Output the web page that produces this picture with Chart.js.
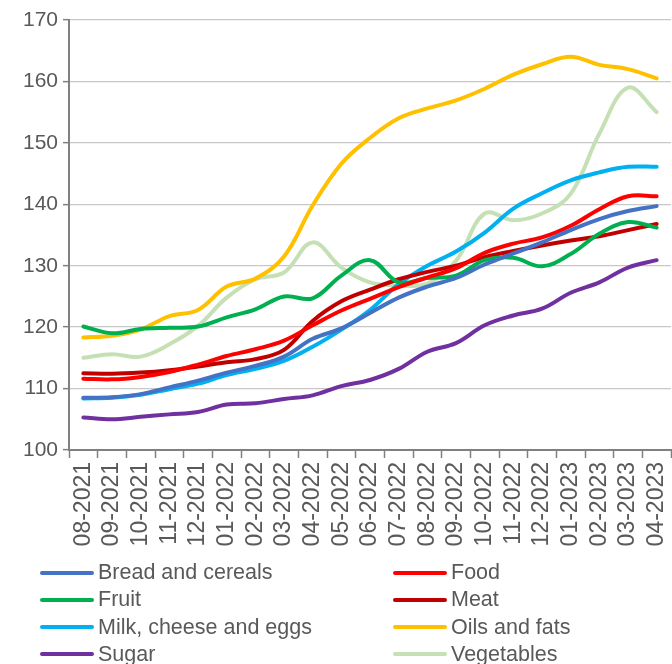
<!DOCTYPE html>
<html>
<head>
<meta charset="utf-8">
<script src="https://cdn.jsdelivr.net/npm/chart.js@4.4.0/dist/chart.umd.min.js"></script>
<style>
  html, body { margin: 0; padding: 0; background: #ffffff; }
  #wrap { position: relative; width: 672px; height: 664px; overflow: hidden; }
  #chartBox { position: absolute; left: 0; top: 0; width: 672px; height: 560px; }
  #legend { position: absolute; left: 0; top: 559px; width: 672px; font-family: 'Liberation Sans', Arial, sans-serif; font-size: 21.5px; color: #595959; }
  .item { position: absolute; height: 27px; line-height: 27px; white-space: nowrap; }
  .item .ln { position: absolute; left: 0; top: 11.5px; width: 54px; height: 4px; border-radius: 2px; }
  .item .tx { position: absolute; left: 58px; top: 0; }
</style>
</head>
<body>
<div id="wrap">
  <div id="chartBox"><canvas id="c" width="672" height="560"></canvas></div>
  <div id="legend"></div>
</div>
<script>
const categories = ['08-2021','09-2021','10-2021','11-2021','12-2021','01-2022','02-2022','03-2022','04-2022','05-2022','06-2022','07-2022','08-2022','09-2022','10-2022','11-2022','12-2022','01-2023','02-2023','03-2023','04-2023'];

const seriesNames = ['Bread and cereals','Food','Fruit','Meat','Milk, cheese and eggs','Oils and fats','Sugar','Vegetables'];

const breadAndCereals = [108.5,108.6,109.1,110.2,111.3,112.6,113.7,115.2,118.1,119.8,122.3,124.8,126.6,128.0,130.2,132.0,133.8,135.8,137.6,138.9,139.7];
const food = [111.6,111.5,111.9,112.7,113.9,115.3,116.4,117.8,120.3,122.7,124.6,126.5,128.1,129.6,132.1,133.6,134.6,136.5,139.2,141.3,141.3];
const fruit = [120.1,119.0,119.7,119.9,120.1,121.6,122.9,125.0,124.7,128.4,130.9,127.3,128.0,128.4,130.9,131.3,129.9,131.9,135.2,137.1,136.2];
const meat = [112.5,112.4,112.6,113.0,113.6,114.3,114.8,116.3,121.0,124.2,126.1,127.8,129.0,130.0,131.4,132.4,133.3,134.1,134.8,135.8,136.8];
const milkCheeseEggs = [108.4,108.5,109.0,109.9,110.8,112.2,113.2,114.5,116.8,119.6,122.8,127.0,130.0,132.3,135.4,139.3,141.8,143.9,145.2,146.1,146.1];
const oilsAndFats = [118.3,118.6,119.6,121.8,122.8,126.6,127.9,131.5,139.8,146.6,150.8,154.0,155.6,156.9,158.8,161.1,162.8,164.0,162.7,162.0,160.5];
const sugar = [105.3,105.0,105.4,105.8,106.2,107.4,107.6,108.3,108.9,110.4,111.4,113.2,116.0,117.4,120.3,121.9,123.0,125.6,127.3,129.7,130.9];
const vegetables = [115.0,115.6,115.2,117.2,120.2,124.8,127.8,128.9,133.8,129.7,127.3,126.8,127.1,130.8,138.5,137.4,138.5,141.7,151.5,159.0,155.0];

const yTicks = [100,110,120,130,140,150,160,170];

const seriesValues = [breadAndCereals, food, fruit, meat, milkCheeseEggs, oilsAndFats, sugar, vegetables];
const seriesColors = ['#4472C4','#FF0000','#00B050','#C00000','#00B0F0','#FFC000','#7030A0','#C5E0B4'];

const datasets = seriesNames.map((name, i) => ({
  label: name,
  data: seriesValues[i],
  borderColor: seriesColors[i],
  backgroundColor: seriesColors[i],
  borderWidth: 4,
  pointRadius: 0,
  pointHoverRadius: 0,
  tension: 0.38,
  fill: false,
  borderCapStyle: 'round',
  borderJoinStyle: 'round'
}));

const gray = '#595959';
const axisGray = '#808080';

new Chart(document.getElementById('c'), {
  type: 'line',
  data: { labels: categories, datasets: datasets },
  options: {
    responsive: false,
    animation: false,
    devicePixelRatio: 1,
    layout: { padding: { top: 20, right: 1, left: 0, bottom: 0 } },
    plugins: { legend: { display: false }, tooltip: { enabled: false } },
    scales: {
      x: {
        type: 'category',
        offset: true,
        grid: { display: true, drawOnChartArea: false, drawTicks: true, tickLength: 8, tickColor: axisGray, tickWidth: 1.5, offset: true },
        border: { display: true, color: axisGray, width: 2 },
        ticks: {
          color: gray, autoSkip: false, maxRotation: 90, minRotation: 90, padding: 4,
          font: { family: "'Liberation Sans', Arial, sans-serif", size: 23 }
        },
        afterFit: (s) => { s.height = 110; s.paddingLeft = 0; s.paddingRight = 0; }
      },
      y: {
        min: 100, max: 170,
        afterBuildTicks: (s) => { s.ticks = yTicks.map(v => ({ value: v })); },
        grid: { color: '#c8c8c8', lineWidth: 1.3, drawTicks: true, tickLength: 6, tickColor: axisGray, tickWidth: 1.5 },
        border: { display: true, color: axisGray, width: 2 },
        ticks: {
          color: gray, padding: 5,
          font: { family: "'Liberation Sans', Arial, sans-serif", size: 21 }
        },
        afterFit: (s) => { s.width = 69; s.paddingTop = 0; s.paddingBottom = 0; }
      }
    }
  }
});

// HTML legend built from the series arrays (2 columns, 4 rows)
const legend = document.getElementById('legend');
const colX = [40, 393];
const rowH = 27.3;
seriesNames.forEach((name, i) => {
  const col = i % 2, row = Math.floor(i / 2);
  const it = document.createElement('div');
  it.className = 'item';
  it.style.left = colX[col] + 'px';
  it.style.top = (row * rowH) + 'px';
  const ln = document.createElement('span'); ln.className = 'ln'; ln.style.background = seriesColors[i];
  const tx = document.createElement('span'); tx.className = 'tx'; tx.textContent = name;
  it.appendChild(ln); it.appendChild(tx);
  legend.appendChild(it);
});
</script>
</body>
</html>
